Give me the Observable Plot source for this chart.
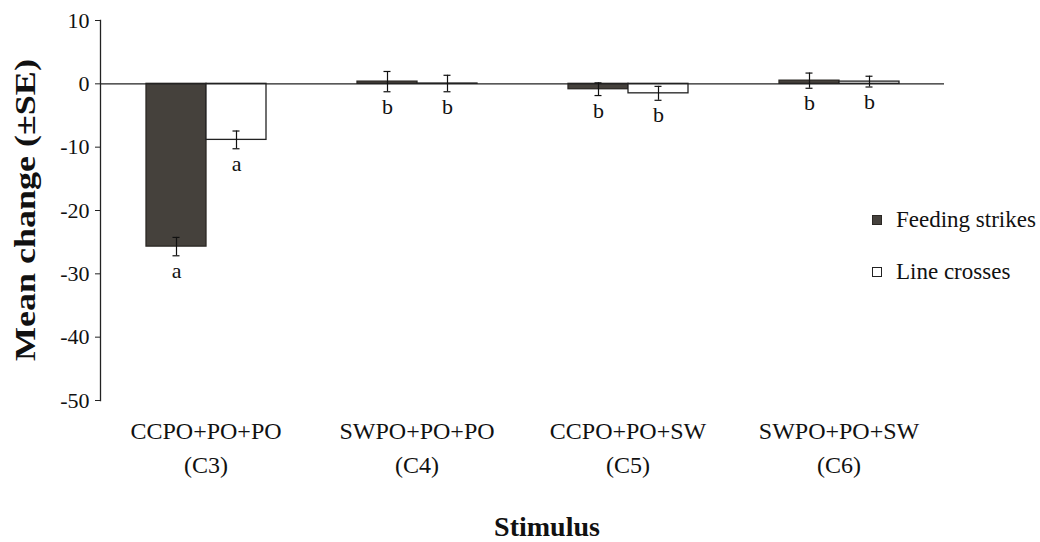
<!DOCTYPE html>
<html>
<head>
<meta charset="utf-8">
<script src="https://cdn.jsdelivr.net/npm/d3@7"></script>
<script src="https://cdn.jsdelivr.net/npm/@observablehq/plot@0.6"></script>
<style>
  html, body { margin: 0; padding: 0; background: white; }
  #wrap { position: relative; width: 1040px; height: 542px; font-family: "Liberation Serif", "Times New Roman", serif; color: #111; }
  #ytitle { position: absolute; left: -175px; top: 194px; width: 400px; height: 32px; line-height: 32px; text-align: center;
            font-size: 30px; font-weight: bold; transform: rotate(-90deg) scale(1.2, 1); transform-origin: 50% 50%; white-space: nowrap; }
  #xtitle { position: absolute; left: 447px; top: 513px; width: 200px; line-height: 28px; text-align: center; font-size: 28px; font-weight: bold; }
  .leg { position: absolute; left: 872px; height: 28px; display: flex; align-items: center; font-size: 23px; white-space: nowrap; }
  .sw { width: 10px; height: 10px; margin-right: 14px; box-sizing: border-box; }
</style>
</head>
<body>
<div id="wrap">
  <div id="chart"></div>
  <div id="ytitle">Mean change (±SE)</div>
  <div id="xtitle">Stimulus</div>
  <div id="legend"></div>
</div>
<script>
// ---- data ----
const categories = ["CCPO+PO+PO", "SWPO+PO+PO", "CCPO+PO+SW", "SWPO+PO+SW"];
const codes = ["(C3)", "(C4)", "(C5)", "(C6)"];
const series = ["Feeding strikes", "Line crosses"];
const feedingMean = [-25.7, 0.35, -0.85, 0.5];
const feedingSE = [1.45, 1.6, 1.0, 1.2];
const feedingLetters = ["a", "b", "b", "b"];
const lineMean = [-8.85, 0.05, -1.5, 0.35];
const lineSE = [1.4, 1.3, 1.1, 0.85];
const lineLetters = ["a", "b", "b", "b"];
const yTicks = [10, 0, -10, -20, -30, -40, -50];

const seriesFill = ["#45413c", "#ffffff"];
const seriesStroke = ["#2b2824", "#222222"];

const rows = [];
categories.forEach((c, i) => {
  rows.push({cat: c, series: series[0], value: feedingMean[i], se: feedingSE[i], letter: feedingLetters[i]});
  rows.push({cat: c, series: series[1], value: lineMean[i], se: lineSE[i], letter: lineLetters[i]});
});
rows.forEach(d => { d.lo = d.value - d.se; d.hi = d.value + d.se; });

const plot = Plot.plot({
  width: 1040,
  height: 542,
  marginLeft: 100,
  marginRight: 96,
  marginTop: 20,
  marginBottom: 142,
  style: {fontFamily: "'Liberation Serif', 'Times New Roman', serif", fontSize: "22px", background: "white", color: "#111"},
  fx: {domain: categories, padding: 0, label: null},
  x: {domain: series, paddingInner: 0, paddingOuter: 0.757, axis: null},
  y: {domain: [-50, 10], label: null},
  color: {domain: series, range: seriesFill},
  marks: [
    Plot.frame({anchor: "left", facetAnchor: "left", stroke: "#222", strokeWidth: 1.3}),
    Plot.barY(rows, {fx: "cat", x: "series", y: "value", fill: "series",
      stroke: d => seriesStroke[series.indexOf(d.series)], strokeWidth: 1.3}),
    Plot.ruleY([0], {stroke: "#222", strokeWidth: 1.3}),
    Plot.ruleX(rows, {fx: "cat", x: "series", y1: "lo", y2: "hi", stroke: "#111", strokeWidth: 1.2}),
    Plot.tickY(rows, {fx: "cat", x: "series", y: "lo", insetLeft: 26.5, insetRight: 26.5, stroke: "#111", strokeWidth: 1.2}),
    Plot.tickY(rows, {fx: "cat", x: "series", y: "hi", insetLeft: 26.5, insetRight: 26.5, stroke: "#111", strokeWidth: 1.2}),
    Plot.text(rows, {fx: "cat", x: "series", y: "lo", text: "letter", dy: 15, fontSize: 22, fill: "#111"}),
    Plot.axisY({ticks: yTicks, tickSize: 5, tickPadding: 6, fontSize: 22, label: null, stroke: "#222",
      tickFormat: d => String(d)}),
    Plot.axisFx({anchor: "bottom", tickSize: 0, tickPadding: 15, fontSize: 24, lineHeight: 1.4, label: null,
      tickFormat: d => d + "\n" + codes[categories.indexOf(d)]})
  ]
});
document.getElementById("chart").appendChild(plot);

// legend
const legend = document.getElementById("legend");
const legTops = [206, 258];
series.forEach((s, i) => {
  const item = document.createElement("div");
  item.className = "leg";
  item.style.top = legTops[i] + "px";
  const sw = document.createElement("div");
  sw.className = "sw";
  sw.style.background = seriesFill[i];
  sw.style.border = "1.5px solid " + seriesStroke[i];
  const t = document.createElement("span");
  t.textContent = s;
  item.appendChild(sw);
  item.appendChild(t);
  legend.appendChild(item);
});
</script>
</body>
</html>
